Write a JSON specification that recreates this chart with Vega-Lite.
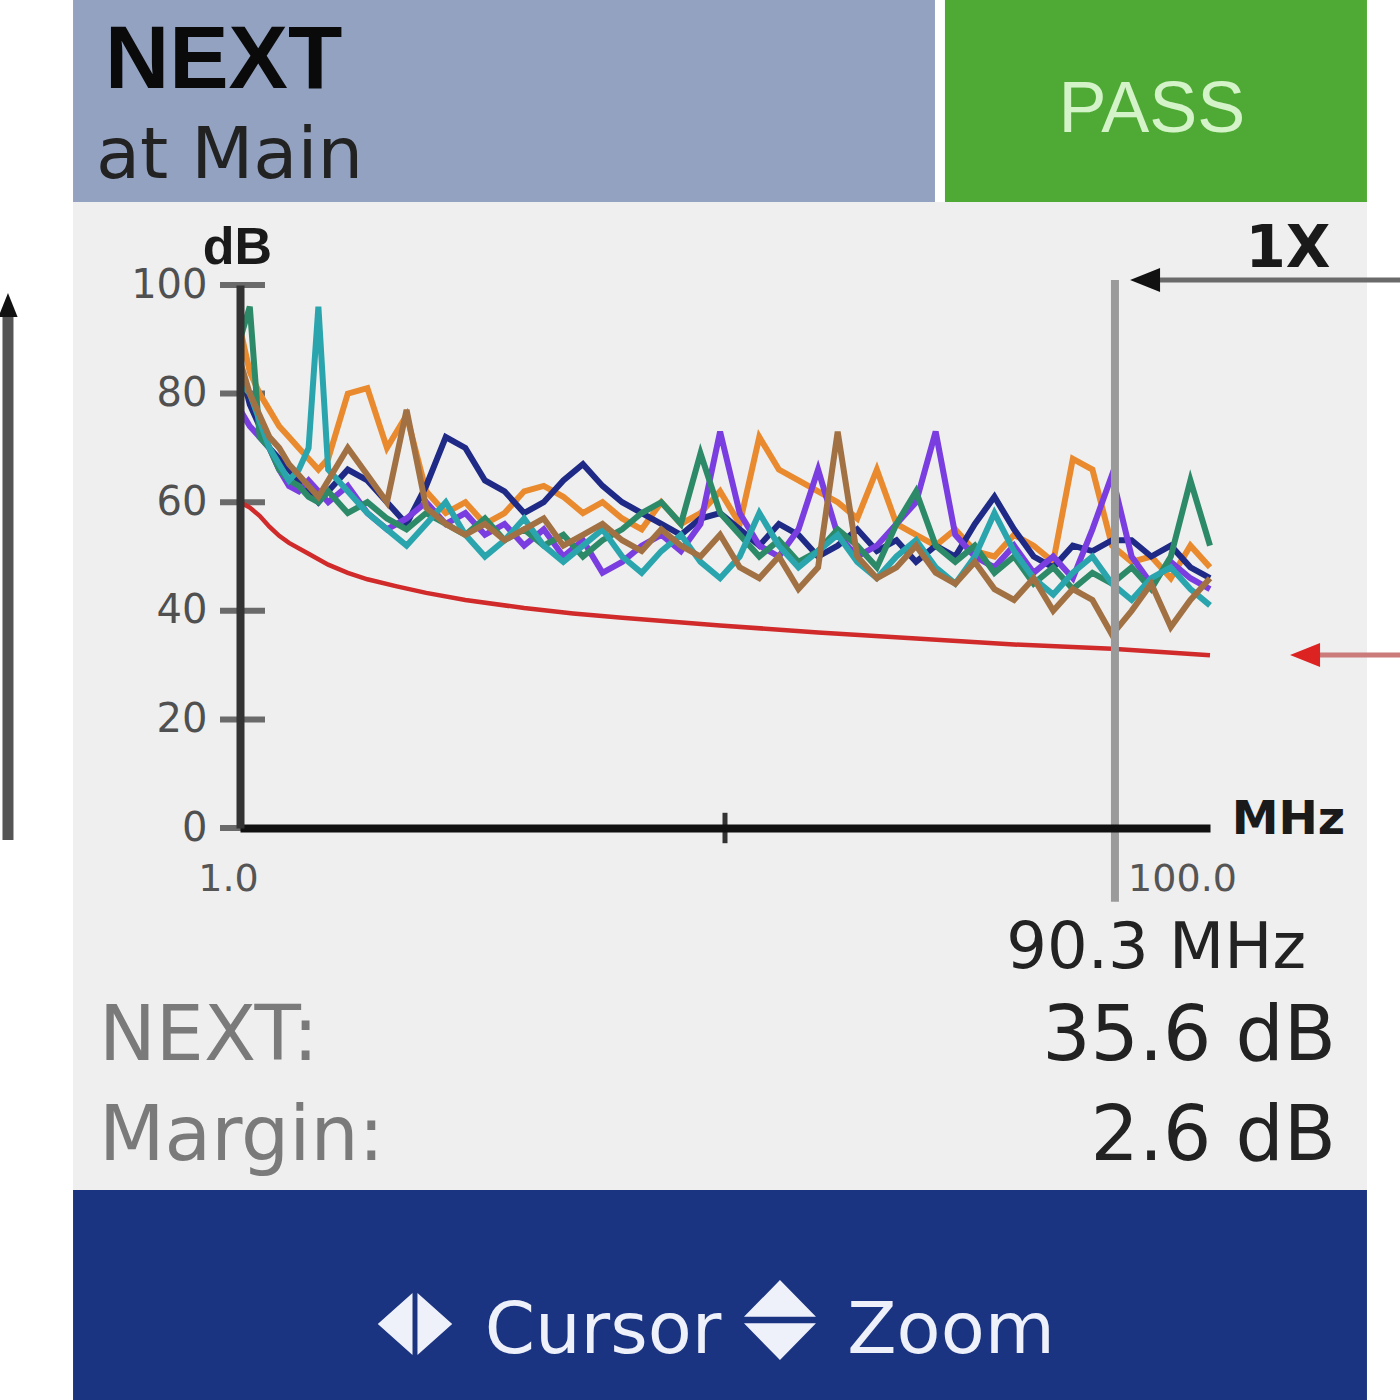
{
  "$schema": "https://vega.github.io/schema/vega-lite/v6.json",
  "width": 970,
  "height": 543,
  "autosize": {"type": "none"},
  "padding": {"left": 240, "top": 285, "right": 190, "bottom": 572},
  "background": "#ffffff",
  "config": {"view": {"stroke": null}, "font": "DejaVu Sans"},
  "data": {"values": [{}]},
  "datasets": {
    "next": [
      {"f":1,"12-36":92,"12-45":85,"12-78":77,"36-45":90,"36-78":82,"45-78":86},
      {"f":2,"12-36":84,"12-45":78,"12-78":74,"36-45":96,"36-78":80,"45-78":80},
      {"f":3,"12-36":80,"12-45":74,"12-78":72,"36-45":72,"36-78":75,"45-78":76},
      {"f":4,"12-36":77,"12-45":70,"12-78":70,"36-45":70,"36-78":70,"45-78":72},
      {"f":5,"12-36":74,"12-45":68,"12-78":66,"36-45":66,"36-78":67,"45-78":70},
      {"f":6,"12-36":72,"12-45":66,"12-78":63,"36-45":64,"36-78":64,"45-78":67},
      {"f":7,"12-36":70,"12-45":64,"12-78":62,"36-45":63,"36-78":66,"45-78":65},
      {"f":8,"12-36":68,"12-45":62,"12-78":64,"36-45":61,"36-78":70,"45-78":63},
      {"f":9,"12-36":66,"12-45":60,"12-78":62,"36-45":60,"36-78":96,"45-78":61},
      {"f":10,"12-36":68,"12-45":62,"12-78":60,"36-45":62,"36-78":66,"45-78":64},
      {"f":12,"12-36":80,"12-45":66,"12-78":63,"36-45":58,"36-78":62,"45-78":70},
      {"f":14,"12-36":81,"12-45":64,"12-78":58,"36-45":60,"36-78":58,"45-78":65},
      {"f":16,"12-36":70,"12-45":60,"12-78":55,"36-45":57,"36-78":55,"45-78":60},
      {"f":18,"12-36":76,"12-45":56,"12-78":57,"36-45":55,"36-78":52,"45-78":77},
      {"f":20,"12-36":62,"12-45":63,"12-78":60,"36-45":58,"36-78":56,"45-78":59},
      {"f":22,"12-36":58,"12-45":72,"12-78":56,"36-45":56,"36-78":60,"45-78":56},
      {"f":24,"12-36":60,"12-45":70,"12-78":58,"36-45":54,"36-78":54,"45-78":54},
      {"f":26,"12-36":56,"12-45":64,"12-78":54,"36-45":57,"36-78":50,"45-78":56},
      {"f":28,"12-36":58,"12-45":62,"12-78":56,"36-45":53,"36-78":53,"45-78":53},
      {"f":30,"12-36":62,"12-45":58,"12-78":52,"36-45":55,"36-78":57,"45-78":55},
      {"f":32,"12-36":63,"12-45":60,"12-78":55,"36-45":52,"36-78":52,"45-78":57},
      {"f":34,"12-36":61,"12-45":64,"12-78":50,"36-45":54,"36-78":49,"45-78":52},
      {"f":36,"12-36":58,"12-45":67,"12-78":53,"36-45":50,"36-78":52,"45-78":54},
      {"f":38,"12-36":60,"12-45":63,"12-78":47,"36-45":53,"36-78":55,"45-78":56},
      {"f":40,"12-36":57,"12-45":60,"12-78":49,"36-45":55,"36-78":50,"45-78":53},
      {"f":42,"12-36":55,"12-45":58,"12-78":52,"36-45":58,"36-78":47,"45-78":51},
      {"f":44,"12-36":60,"12-45":56,"12-78":54,"36-45":60,"36-78":51,"45-78":55},
      {"f":46,"12-36":56,"12-45":54,"12-78":51,"36-45":56,"36-78":54,"45-78":52},
      {"f":48,"12-36":58,"12-45":57,"12-78":56,"36-45":69,"36-78":49,"45-78":50},
      {"f":50,"12-36":62,"12-45":58,"12-78":73,"36-45":58,"36-78":46,"45-78":54},
      {"f":52,"12-36":56,"12-45":55,"12-78":58,"36-45":54,"36-78":50,"45-78":48},
      {"f":54,"12-36":72,"12-45":52,"12-78":52,"36-45":50,"36-78":58,"45-78":46},
      {"f":56,"12-36":66,"12-45":56,"12-78":50,"36-45":53,"36-78":52,"45-78":50},
      {"f":58,"12-36":64,"12-45":54,"12-78":55,"36-45":49,"36-78":48,"45-78":44},
      {"f":60,"12-36":62,"12-45":50,"12-78":66,"36-45":51,"36-78":51,"45-78":48},
      {"f":62,"12-36":60,"12-45":52,"12-78":54,"36-45":55,"36-78":54,"45-78":73},
      {"f":64,"12-36":57,"12-45":55,"12-78":50,"36-45":52,"36-78":49,"45-78":50},
      {"f":66,"12-36":66,"12-45":51,"12-78":52,"36-45":48,"36-78":46,"45-78":46},
      {"f":68,"12-36":56,"12-45":53,"12-78":56,"36-45":56,"36-78":50,"45-78":48},
      {"f":70,"12-36":54,"12-45":49,"12-78":60,"36-45":62,"36-78":53,"45-78":52},
      {"f":72,"12-36":52,"12-45":52,"12-78":73,"36-45":52,"36-78":48,"45-78":47},
      {"f":74,"12-36":55,"12-45":50,"12-78":54,"36-45":49,"36-78":45,"45-78":45},
      {"f":76,"12-36":51,"12-45":56,"12-78":50,"36-45":52,"36-78":50,"45-78":49},
      {"f":78,"12-36":50,"12-45":61,"12-78":48,"36-45":47,"36-78":58,"45-78":44},
      {"f":80,"12-36":54,"12-45":55,"12-78":52,"36-45":50,"36-78":51,"45-78":42},
      {"f":82,"12-36":52,"12-45":50,"12-78":47,"36-45":45,"36-78":46,"45-78":46},
      {"f":84,"12-36":49,"12-45":48,"12-78":50,"36-45":48,"36-78":43,"45-78":40},
      {"f":86,"12-36":68,"12-45":52,"12-78":46,"36-45":44,"36-78":47,"45-78":44},
      {"f":88,"12-36":66,"12-45":51,"12-78":55,"36-45":47,"36-78":50,"45-78":42},
      {"f":90,"12-36":52,"12-45":53,"12-78":65,"36-45":45,"36-78":45,"45-78":35.6},
      {"f":92,"12-36":49,"12-45":53,"12-78":50,"36-45":48,"36-78":42,"45-78":40},
      {"f":94,"12-36":50,"12-45":50,"12-78":45,"36-45":44,"36-78":46,"45-78":45},
      {"f":96,"12-36":46,"12-45":52,"12-78":49,"36-45":50,"36-78":48,"45-78":37},
      {"f":98,"12-36":52,"12-45":48,"12-78":46,"36-45":64,"36-78":44,"45-78":42},
      {"f":100,"12-36":48,"12-45":46,"12-78":44,"36-45":52,"36-78":41,"45-78":46}
    ],
    "limit": [
      {"f":1,"dB":60},{"f":2,"dB":59},{"f":3,"dB":57.5},{"f":4,"dB":55.5},{"f":5,"dB":53.8},
      {"f":6,"dB":52.5},{"f":8,"dB":50.5},{"f":10,"dB":48.5},{"f":12,"dB":47},{"f":14,"dB":45.8},
      {"f":17,"dB":44.5},{"f":20,"dB":43.3},{"f":24,"dB":42},{"f":30,"dB":40.5},{"f":35,"dB":39.5},
      {"f":40,"dB":38.7},{"f":50,"dB":37.3},{"f":60,"dB":36},{"f":70,"dB":34.9},{"f":80,"dB":33.8},
      {"f":90,"dB":33},{"f":100,"dB":31.8}
    ],
    "yticks": [{"dB":0},{"dB":20},{"dB":40},{"dB":60},{"dB":80},{"dB":100}]
  },
  "layer": [
    {"mark": {"type": "rect", "color": "#efefef"},
     "encoding": {"x": {"datum": -16.04, "type": "quantitative"}, "x2": {"datum": 116.02},
                  "y": {"datum": 115.29, "type": "quantitative"}, "y2": {"datum": -66.67}}},
    {"mark": {"type": "rect", "color": "#93a2c1"},
     "encoding": {"x": {"datum": -16.04, "type": "quantitative"}, "x2": {"datum": 71.93},
                  "y": {"datum": 160, "type": "quantitative"}, "y2": {"datum": 115.29}}},
    {"mark": {"type": "rect", "color": "#4faa35"},
     "encoding": {"x": {"datum": 72.95, "type": "quantitative"}, "x2": {"datum": 116.02},
                  "y": {"datum": 160, "type": "quantitative"}, "y2": {"datum": 115.29}}},
    {"mark": {"type": "rect", "color": "#1b3481"},
     "encoding": {"x": {"datum": -16.04, "type": "quantitative"}, "x2": {"datum": 116.02},
                  "y": {"datum": -66.67, "type": "quantitative"}, "y2": {"datum": -110}}},
    {"mark": {"type": "text", "text": "NEXT", "font": "Liberation Sans", "fontWeight": "bold", "fontSize": 89, "align": "left", "baseline": "alphabetic", "color": "#0a0a0a"},
     "encoding": {"x": {"datum": -12.78, "type": "quantitative"}, "y": {"datum": 136.28, "type": "quantitative"}}},
    {"mark": {"type": "text", "text": "at Main", "font": "DejaVu Sans", "fontSize": 72, "align": "left", "baseline": "alphabetic", "color": "#222222"},
     "encoding": {"x": {"datum": -13.7, "type": "quantitative"}, "y": {"datum": 119.71, "type": "quantitative"}}},
    {"mark": {"type": "text", "text": "PASS", "font": "Liberation Sans", "fontSize": 72, "align": "center", "baseline": "alphabetic", "color": "#d5f3c8"},
     "encoding": {"x": {"datum": 94.08, "type": "quantitative"}, "y": {"datum": 128.18, "type": "quantitative"}}},
    {"mark": {"type": "text", "text": "1X", "font": "DejaVu Sans", "fontWeight": "bold", "fontSize": 58, "align": "center", "baseline": "alphabetic", "color": "#1a1a1a"},
     "encoding": {"x": {"datum": 107.96, "type": "quantitative"}, "y": {"datum": 103.31, "type": "quantitative"}}},
    {"mark": {"type": "text", "text": "90.3 MHz", "font": "DejaVu Sans", "fontSize": 64, "align": "right", "baseline": "alphabetic", "color": "#222222"},
     "encoding": {"x": {"datum": 109.8, "type": "quantitative"}, "y": {"datum": -25.78, "type": "quantitative"}}},
    {"mark": {"type": "text", "text": "NEXT:", "font": "DejaVu Sans", "fontSize": 76, "align": "left", "baseline": "alphabetic", "color": "#7a7a7a"},
     "encoding": {"x": {"datum": -13.39, "type": "quantitative"}, "y": {"datum": -42.73, "type": "quantitative"}}},
    {"mark": {"type": "text", "text": "35.6 dB", "font": "DejaVu Sans", "fontSize": 76, "align": "right", "baseline": "alphabetic", "color": "#222222"},
     "encoding": {"x": {"datum": 112.86, "type": "quantitative"}, "y": {"datum": -42.73, "type": "quantitative"}}},
    {"mark": {"type": "text", "text": "Margin:", "font": "DejaVu Sans", "fontSize": 76, "align": "left", "baseline": "alphabetic", "color": "#7a7a7a"},
     "encoding": {"x": {"datum": -13.39, "type": "quantitative"}, "y": {"datum": -61.14, "type": "quantitative"}}},
    {"mark": {"type": "text", "text": "2.6 dB", "font": "DejaVu Sans", "fontSize": 76, "align": "right", "baseline": "alphabetic", "color": "#222222"},
     "encoding": {"x": {"datum": 112.86, "type": "quantitative"}, "y": {"datum": -61.14, "type": "quantitative"}}},
    {"mark": {"type": "text", "text": "Cursor", "font": "DejaVu Sans", "fontSize": 72, "align": "center", "baseline": "alphabetic", "color": "#eef0fa"},
     "encoding": {"x": {"datum": 38.05, "type": "quantitative"}, "y": {"datum": -96.69, "type": "quantitative"}}},
    {"mark": {"type": "text", "text": "Zoom", "font": "DejaVu Sans", "fontSize": 72, "align": "center", "baseline": "alphabetic", "color": "#eef0fa"},
     "encoding": {"x": {"datum": 73.57, "type": "quantitative"}, "y": {"datum": -96.69, "type": "quantitative"}}},
    {"mark": {"type": "point", "shape": "M-0.08,-1L-1.2,0L-0.08,1Z M0.08,-1L1.2,0L0.08,1Z", "size": 3844, "filled": true, "color": "#eef0fa", "opacity": 1, "strokeWidth": 0},
     "encoding": {"x": {"datum": 18.86, "type": "quantitative"}, "y": {"datum": -91.34, "type": "quantitative"}}},
    {"mark": {"type": "point", "shape": "M-0.9,-0.08L0,-1L0.9,-0.08Z M-0.9,0.08L0,1L0.9,0.08Z", "size": 6400, "filled": true, "color": "#eef0fa", "opacity": 1, "strokeWidth": 0},
     "encoding": {"x": {"datum": 56.11, "type": "quantitative"}, "y": {"datum": -90.61, "type": "quantitative"}}},
    {"data": {"name": "yticks"},
     "mark": {"type": "rule", "color": "#6a6a6a", "strokeWidth": 6},
     "encoding": {"y": {"field": "dB", "type": "quantitative"}, "x": {"datum": -1.04, "type": "quantitative"}, "x2": {"datum": 3.55}}},
    {"mark": {"type": "rule", "color": "#333333", "strokeWidth": 5},
     "encoding": {"x": {"datum": 50.5, "type": "quantitative"}, "y": {"datum": -2.8, "type": "quantitative"}, "y2": {"datum": 2.8}}},
    {"data": {"name": "limit"},
     "mark": {"type": "line", "color": "#d02a2a", "strokeWidth": 4.5},
     "encoding": {"x": {"field": "f", "type": "quantitative"}, "y": {"field": "dB", "type": "quantitative"}}},
    {"data": {"name": "next"},
     "transform": [{"fold": ["12-36", "12-45", "12-78", "36-45", "36-78", "45-78"], "as": ["pair", "dB"]}],
     "mark": {"type": "line", "strokeWidth": 6},
     "encoding": {
       "x": {"field": "f", "type": "quantitative",
             "scale": {"domain": [1, 100], "nice": false, "zero": false},
             "axis": {"values": [1, 100], "labelExpr": "datum.value == 1 ? '1.0' : '100.0'",
                      "title": "MHz", "titleX": 1048, "titleY": 5, "titleAlign": "center", "titleBaseline": "alphabetic",
                      "titleFont": "DejaVu Sans", "titleFontSize": 47, "titleFontWeight": "bold", "titleColor": "#1a1a1a",
                      "ticks": false, "grid": false, "domainColor": "#111111", "domainWidth": 8,
                      "labelFont": "DejaVu Sans", "labelFontSize": 38, "labelColor": "#555555", "labelPadding": 32,
                      "labelBaseline": "top", "labelAlign": "center", "labelFlush": false, "labelOverlap": false,
                      "labelOffset": {"condition": {"test": "datum.value == 100", "value": -28}, "value": -12},
                      "zindex": 1}},
       "y": {"field": "dB", "type": "quantitative",
             "scale": {"domain": [0, 100], "nice": false, "zero": false},
             "axis": {"values": [0, 20, 40, 60, 80, 100], "title": "dB", "titleAngle": 0, "titleX": -3, "titleY": -22,
                      "titleAlign": "center", "titleBaseline": "alphabetic", "titleFont": "Liberation Sans",
                      "titleFontSize": 52, "titleFontWeight": "bold", "titleColor": "#1a1a1a",
                      "ticks": false, "grid": false, "domainColor": "#333333", "domainWidth": 8,
                      "labelFont": "DejaVu Sans", "labelFontSize": 40, "labelColor": "#505050", "labelPadding": 33,
                      "zindex": 1}},
       "color": {"field": "pair", "type": "nominal", "legend": null,
                 "scale": {"domain": ["12-36", "12-45", "12-78", "36-45", "36-78", "45-78"],
                           "range": ["#e98a2e", "#1e2a86", "#7a3de0", "#2d8a68", "#2aa5ad", "#a27143"]}}
     }},
    {"mark": {"type": "rule", "color": "#9a9a9a", "strokeWidth": 8},
     "encoding": {"x": {"datum": 90.3, "type": "quantitative"}, "y": {"datum": -13.6, "type": "quantitative"}, "y2": {"datum": 100.92}}},
    {"mark": {"type": "rule", "color": "#6a6a6a", "strokeWidth": 5},
     "encoding": {"x": {"datum": 94.9, "type": "quantitative"}, "x2": {"datum": 125}, "y": {"datum": 100.92, "type": "quantitative"}}},
    {"mark": {"type": "point", "shape": "M-1,0L1,-0.8L1,0.8Z", "size": 900, "filled": true, "color": "#111111", "opacity": 1, "strokeWidth": 0},
     "encoding": {"x": {"datum": 93.37, "type": "quantitative"}, "y": {"datum": 100.92, "type": "quantitative"}}},
    {"mark": {"type": "rule", "color": "#cc7b7b", "strokeWidth": 5},
     "encoding": {"x": {"datum": 110.7, "type": "quantitative"}, "x2": {"datum": 125}, "y": {"datum": 31.86, "type": "quantitative"}}},
    {"mark": {"type": "point", "shape": "M-1,0L1,-0.8L1,0.8Z", "size": 900, "filled": true, "color": "#dd2222", "opacity": 1, "strokeWidth": 0},
     "encoding": {"x": {"datum": 109.7, "type": "quantitative"}, "y": {"datum": 31.86, "type": "quantitative"}}},
    {"mark": {"type": "rule", "color": "#555555", "strokeWidth": 11},
     "encoding": {"x": {"datum": -22.68, "type": "quantitative"}, "y": {"datum": -2.21, "type": "quantitative"}, "y2": {"datum": 95.4}}},
    {"mark": {"type": "point", "shape": "M0,-1L0.8,1L-0.8,1Z", "size": 576, "filled": true, "color": "#111111", "opacity": 1, "strokeWidth": 0},
     "encoding": {"x": {"datum": -22.68, "type": "quantitative"}, "y": {"datum": 96.32, "type": "quantitative"}}}
  ]
}
